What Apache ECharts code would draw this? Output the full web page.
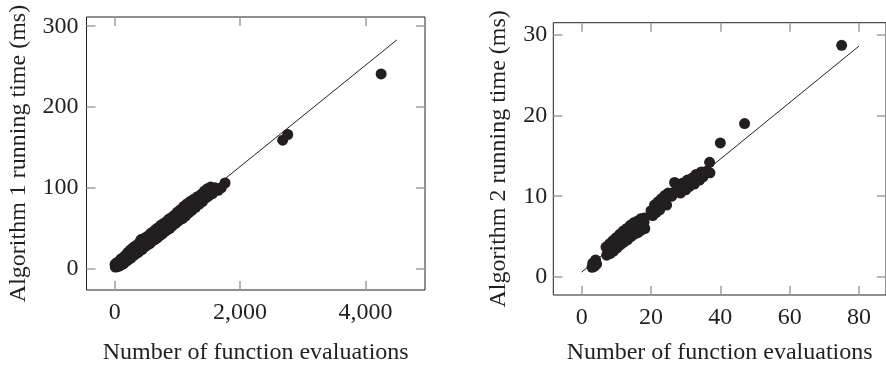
<!DOCTYPE html>
<html>
<head>
<meta charset="utf-8">
<script src="https://cdn.jsdelivr.net/npm/echarts@6/dist/echarts.min.js"></script>
<style>
html,body{margin:0;padding:0;background:#fff;}
#chart{width:886px;height:370px;}
</style>
</head>
<body>
<div id="chart"></div>
<script>
// ---- Plot 1: Algorithm 1 ----
var evals1 = [5,10,15,20,30,40,50,60,75,90,100,110,125,140,150,165,180,200,210,230,250,260,280,300,310,330,350,370,390,400,420,440,460,480,500,520,540,560,580,600,620,640,660,680,700,720,740,760,780,800,820,840,860,880,900,920,950,970,1000,1020,1050,1080,1100,1130,1150,1180,1200,1230,1260,1290,1320,1350,1380,1400,1430,1460,1480,1500,1530,1560,1600,1650,1700,1760,2680,2760,4250];
var time1  = [5,2,6,3,7,2.5,8,3,9,4,12,5,13,6,15,8,17,10,20,12,23,13,25,16,27,18,29,20,32,22,36,24,37,27,39,29,41,31,44,34,46,36,49,38,51,41,54,43,56,46,58,48,61,50,63,53,66,56,70,59,73,62,77,65,80,69,83,72,86,76,89,80,92,83,96,88,99,90,101,93,100,97,100,106,159,166,241];
var fit1X = [0, 4500];
var fit1Y = [0.9, 283];
var xTicks1 = [0, 2000, 4000];
var xTickLabels1 = ['0', '2,000', '4,000'];
var yTicks1 = [0, 100, 200, 300];
var yTickLabels1 = ['0', '100', '200', '300'];

// ---- Plot 2: Algorithm 2 ----
var evals2 = [3,3.2,3.6,4,4.3,7,7.2,7.6,8,8.2,8.6,9,9.2,9.6,10,10.2,10.6,11,11.2,11.6,12,12.2,12.6,13,13.2,13.6,14,14.2,14.6,15,15.2,15.6,16,16.2,16.6,17,17.2,17.6,18,18.2,18,20,20.5,21,21.5,22,22.5,23,24,24.5,25,26,26.8,27,28,28.5,29,30,30.5,31,32,32.5,33,34,34.5,35,36,36.9,37,40,47,75];
var time2  = [1.2,1.7,1.3,2.1,1.6,3.7,2.7,3.2,4.1,2.9,3.7,4.5,3.2,4.0,4.9,3.6,4.4,5.3,4.0,4.8,5.7,4.3,5.1,6.0,4.6,5.5,6.4,5.0,5.9,6.7,5.3,6.2,6.9,5.5,6.3,7.2,5.8,6.6,7.3,6.0,6.8,8.2,7.6,8.9,8.0,9.3,8.3,9.7,10.1,8.9,10.4,10.0,11.7,10.6,11.2,10.4,11.6,10.8,12.0,11.2,12.3,11.5,12.7,12.0,13.0,12.4,13.1,14.2,12.9,16.6,19.0,28.7];
var fit2X = [0, 80];
var fit2Y = [0.6, 28.6];
var xTicks2 = [0, 20, 40, 60, 80];
var xTickLabels2 = ['0', '20', '40', '60', '80'];
var yTicks2 = [0, 10, 20, 30];
var yTickLabels2 = ['0', '10', '20', '30'];

var xName = 'Number of function evaluations';
var yName1 = 'Algorithm 1 running time (ms)';
var yName2 = 'Algorithm 2 running time (ms)';

function zip(a, b) { return a.map(function (v, i) { return [v, b[i]]; }); }
function labelFor(ticks, labels) {
  return function (v) { var i = ticks.indexOf(v); return i >= 0 ? labels[i] : ''; };
}

var FONT = 'Liberation Serif';
var FS = 24;
var INK = '#231f20';
var tickStyle = { show: true, inside: true, length: 9, lineStyle: { color: '#a0a0a0', width: 1.5 } };

function mkX(gi, pos, min, max, ticks, labels, showLabel, name, nameGap) {
  return {
    type: 'value', gridIndex: gi, position: pos, min: min, max: max,
    axisLine: { show: false, onZero: false },
    splitLine: { show: false },
    axisTick: Object.assign({ customValues: ticks }, tickStyle),
    axisLabel: {
      show: showLabel, customValues: ticks, margin: 11,
      formatter: labelFor(ticks, labels),
      fontFamily: FONT, fontSize: FS, color: INK
    },
    name: name || '', nameLocation: 'middle', nameGap: nameGap || 0,
    nameTextStyle: { fontFamily: FONT, fontSize: FS, color: INK }
  };
}
function mkY(gi, pos, min, max, ticks, labels, showLabel, name, nameGap, margin) {
  return {
    type: 'value', gridIndex: gi, position: pos, min: min, max: max,
    axisLine: { show: false, onZero: false },
    splitLine: { show: false },
    axisTick: Object.assign({ customValues: ticks }, tickStyle),
    axisLabel: {
      show: showLabel, customValues: ticks, margin: margin || 8,
      formatter: labelFor(ticks, labels),
      fontFamily: FONT, fontSize: FS, color: INK
    },
    name: name || '', nameLocation: 'middle', nameGap: nameGap || 0, nameRotate: 90,
    nameTextStyle: { fontFamily: FONT, fontSize: FS, color: INK }
  };
}

var chart = echarts.init(document.getElementById('chart'), null, { renderer: 'canvas' });
chart.setOption({
  animation: false,
  backgroundColor: '#fff',
  grid: [
    { left: 86.5, top: 17, width: 338.5, height: 276, show: true, borderColor: INK, borderWidth: 1, backgroundColor: 'transparent' },
    { left: 553.3, top: 22.7, width: 338, height: 275.6, show: true, borderColor: INK, borderWidth: 1, backgroundColor: 'transparent' }
  ],
  xAxis: [
    mkX(0, 'bottom', -450, 4950, xTicks1, xTickLabels1, true, xName, 51),
    mkX(0, 'top', -450, 4950, xTicks1, xTickLabels1, false),
    mkX(1, 'bottom', -8.2, 87.8, xTicks2, xTickLabels2, true, xName, 46),
    mkX(1, 'top', -8.2, 87.8, xTicks2, xTickLabels2, false)
  ],
  yAxis: [
    mkY(0, 'left', -26.4, 311.4, yTicks1, yTickLabels1, true, yName1, 56, 8),
    mkY(0, 'right', -26.4, 311.4, yTicks1, yTickLabels1, false),
    mkY(1, 'left', -2.24, 31.5, yTicks2, yTickLabels2, true, yName2, 43, 6),
    mkY(1, 'right', -2.24, 31.5, yTicks2, yTickLabels2, false)
  ],
  series: [
    { type: 'line', xAxisIndex: 0, yAxisIndex: 0, data: zip(fit1X, fit1Y), showSymbol: false, symbol: 'none',
      lineStyle: { color: INK, width: 1 }, z: 2, silent: true },
    { type: 'scatter', xAxisIndex: 0, yAxisIndex: 0, data: zip(evals1, time1), symbolSize: 11,
      itemStyle: { color: INK, opacity: 1 }, z: 3 },
    { type: 'line', xAxisIndex: 2, yAxisIndex: 2, data: zip(fit2X, fit2Y), showSymbol: false, symbol: 'none',
      lineStyle: { color: INK, width: 1 }, z: 2, silent: true },
    { type: 'scatter', xAxisIndex: 2, yAxisIndex: 2, data: zip(evals2, time2), symbolSize: 11,
      itemStyle: { color: INK, opacity: 1 }, z: 3 }
  ]
});
</script>
</body>
</html>
